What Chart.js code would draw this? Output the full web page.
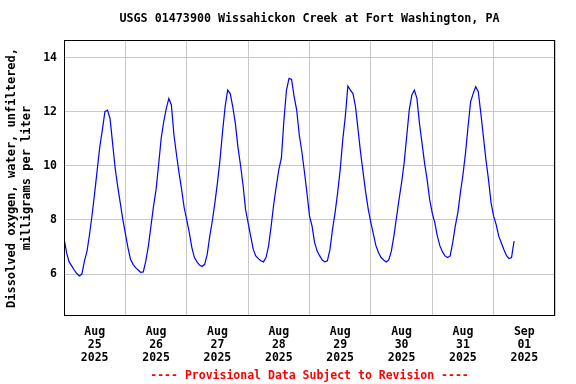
<!DOCTYPE html>
<html>
<head>
<meta charset="utf-8">
<script src="https://cdn.jsdelivr.net/npm/chart.js@4.4.1/dist/chart.umd.min.js"></script>
<style>
  body { margin: 0; background: #fff; }
  canvas { display: block; }
</style>
</head>
<body>
<canvas id="doChart" width="576" height="384"></canvas>
<script>
// hourly readings (mg/L), starting at 00:00 of each day
const aug25 = [7.34, 6.79, 6.45, 6.30, 6.15, 6.02, 5.93, 6.00, 6.49, 6.85, 7.47, 8.20, 9.00, 9.86, 10.71, 11.33, 12.00, 12.06, 11.75, 10.84, 9.92, 9.24, 8.63, 8.02];
const aug26 = [7.50, 6.98, 6.55, 6.36, 6.24, 6.15, 6.06, 6.08, 6.49, 7.04, 7.77, 8.50, 9.12, 10.04, 11.02, 11.63, 12.12, 12.49, 12.25, 11.14, 10.41, 9.73, 9.12, 8.45];
const aug27 = [8.00, 7.53, 6.98, 6.61, 6.45, 6.33, 6.28, 6.36, 6.73, 7.40, 7.96, 8.63, 9.37, 10.22, 11.26, 12.18, 12.80, 12.67, 12.18, 11.57, 10.71, 10.04, 9.30, 8.38];
const aug28 = [7.89, 7.40, 6.91, 6.67, 6.57, 6.49, 6.45, 6.61, 7.04, 7.77, 8.57, 9.24, 9.86, 10.28, 11.69, 12.80, 13.23, 13.19, 12.55, 12.06, 11.14, 10.53, 9.79, 9.00];
const aug29 = [8.15, 7.77, 7.16, 6.85, 6.67, 6.52, 6.45, 6.49, 6.91, 7.65, 8.26, 9.00, 9.86, 10.96, 11.82, 12.95, 12.80, 12.67, 12.18, 11.33, 10.47, 9.73, 9.00, 8.38];
const aug30 = [7.90, 7.47, 7.04, 6.79, 6.61, 6.52, 6.45, 6.52, 6.85, 7.40, 8.08, 8.75, 9.37, 10.10, 11.08, 12.06, 12.61, 12.80, 12.49, 11.57, 10.84, 10.10, 9.49, 8.75];
const aug31 = [8.25, 7.90, 7.40, 7.04, 6.82, 6.67, 6.61, 6.67, 7.16, 7.77, 8.26, 9.00, 9.67, 10.47, 11.45, 12.37, 12.67, 12.92, 12.74, 11.94, 11.08, 10.22, 9.49, 8.63];
const sep01 = [8.14, 7.83, 7.40, 7.16, 6.91, 6.69, 6.57, 6.61, 7.22];

const dayLabels = [
  ["Aug", "25", "2025"], ["Aug", "26", "2025"], ["Aug", "27", "2025"], ["Aug", "28", "2025"],
  ["Aug", "29", "2025"], ["Aug", "30", "2025"], ["Aug", "31", "2025"], ["Sep", "01", "2025"]
];
const xTicks = [0, 12, 24, 36, 48, 60, 72, 84, 96, 108, 120, 132, 144, 156, 168, 180, 192];
const yTicks = [6, 8, 10, 12, 14];

const titleText = "USGS 01473900 Wissahickon Creek at Fort Washington, PA";
const yTitle = ["Dissolved oxygen, water, unfiltered,", "milligrams per liter"];
const footerText = "---- Provisional Data Subject to Revision ----";

// hours since Aug 25 00:00
const readings = [].concat(aug25, aug26, aug27, aug28, aug29, aug30, aug31, sep01);
const points = readings.map((v, i) => ({ x: i, y: v }));

const mono = "'DejaVu Sans Mono', monospace";

// black frame round the plot
const frame = {
  id: "frame",
  afterDraw(chart) {
    const a = chart.chartArea;
    const c = chart.ctx;
    c.save();
    c.strokeStyle = "#000";
    c.lineWidth = 1;
    c.strokeRect(Math.round(a.left) + 0.5, Math.round(a.top) + 0.5,
                 Math.round(a.right - a.left) - 1, Math.round(a.bottom - a.top) - 1);
    c.restore();
  }
};

new Chart(document.getElementById("doChart").getContext("2d"), {
  type: "line",
  data: {
    datasets: [{
      data: points,
      borderColor: "#0000ff",
      borderWidth: 1.2,
      pointRadius: 0,
      tension: 0,
      fill: false
    }]
  },
  options: {
    responsive: false,
    animation: false,
    layout: { padding: { left: 0, right: 21, top: 0, bottom: 0 } },
    plugins: {
      legend: { display: false },
      tooltip: { enabled: false },
      title: {
        display: true,
        text: titleText,
        fullSize: false,
        color: "#000",
        font: { family: mono, size: 11.7, weight: "bold", lineHeight: 1.2 },
        padding: { top: 12.3, bottom: 13.66 }
      },
      subtitle: {
        display: true,
        position: "bottom",
        text: footerText,
        fullSize: false,
        color: "#ff0000",
        font: { family: mono, size: 11.5, weight: "bold", lineHeight: 1.2 },
        padding: { top: 5.6, bottom: 1 }
      }
    },
    scales: {
      x: {
        type: "linear",
        min: 0,
        max: 192,
        afterBuildTicks: s => { s.ticks = xTicks.map(v => ({ value: v })); },
        afterFit: s => { s.height = 47.6; },
        ticks: {
          autoSkip: false,
          maxRotation: 0,
          minRotation: 0,
          padding: 10,
          color: "#000",
          font: { family: mono, size: 11.5, weight: "bold", lineHeight: 1.13 },
          callback: v => (v % 24 === 12 ? dayLabels[(v - 12) / 24] : "")
        },
        grid: {
          drawTicks: false,
          color: c => (c.tick && c.tick.value % 24 === 0 ? "#c8c8c8" : "rgba(0,0,0,0)")
        },
        border: { display: false }
      },
      y: {
        min: 4.45,
        max: 14.65,
        afterBuildTicks: s => { s.ticks = yTicks.map(v => ({ value: v })); },
        afterFit: s => { s.width = 64; },
        ticks: {
          padding: 7,
          color: "#000",
          font: { family: mono, size: 11.5, weight: "bold" }
        },
        grid: { drawTicks: false, color: "#c8c8c8" },
        border: { display: false },
        title: {
          display: true,
          text: yTitle,
          color: "#000",
          font: { family: mono, size: 12, weight: "bold", lineHeight: 1.25 },
          padding: { top: 4.5, bottom: 0 }
        }
      }
    }
  },
  plugins: [frame]
});
</script>
</body>
</html>
